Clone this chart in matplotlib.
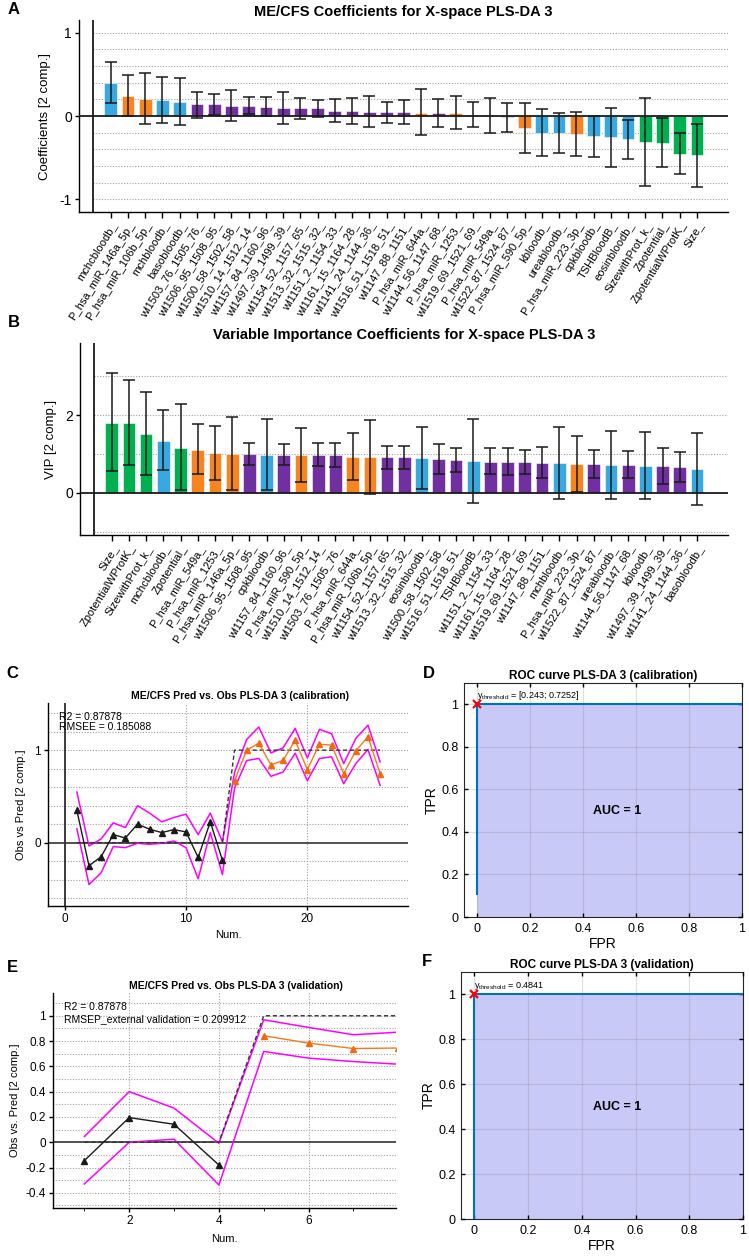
import numpy as np
import matplotlib
matplotlib.use("Agg")
import matplotlib.pyplot as plt

plt.rcParams.update({
    "font.family": ["Liberation Sans", "DejaVu Sans"],
    "mathtext.default": "regular",
    "axes.linewidth": 1.0,
    "xtick.major.width": 1.0, "ytick.major.width": 1.0,
})

BLUE = "#38a9e0"
ORANGE = "#f7841f"
PURPLE = "#7030a0"
GREEN = "#00b050"
MAGENTA = "#ff00ff"
LINE_OR = "#f47a20"
ROC_BLUE = "#0072bd"
ROC_FILL = "#c9c9f8"
DARK = "#1a1a1a"
GRID = "#a0a0a0"

# ---- panel A: coefficients ----
a_labels = ["mchcbloodb_", "P_hsa_miR_146a_5p_", "P_hsa_miR_106b_5p_", "mchbloodb_",
            "basobloodb_", "wl1503_76_1505_76_", "wl1506_95_1508_95_", "wl1500_58_1502_58_",
            "wl1510_14_1512_14_", "wl1157_84_1160_96_", "wl1497_39_1499_39_",
            "wl1154_52_1157_65_", "wl1513_32_1515_32_", "wl1151_2_1154_33_",
            "wl1161_15_1164_28_", "wl1141_24_1144_36_", "wl1516_51_1518_51_",
            "wl1147_88_1151_", "P_hsa_miR_644a_", "wl1144_56_1147_68_", "P_hsa_miR_1253_",
            "wl1519_69_1521_69_", "P_hsa_miR_549a_", "wl1522_87_1524_87_",
            "P_hsa_miR_590_5p_", "kbloodb_", "ureabloodb_", "P_hsa_miR_223_3p_",
            "cpkbloodb_", "TSHBloodB_", "eosinbloodb_", "SizewithProt_k_", "Zpotential_",
            "ZpotentialWProtK_", "Size_"]
a_vals = [0.39, 0.24, 0.20, 0.19, 0.17, 0.14, 0.14, 0.12, 0.12, 0.11, 0.09, 0.09, 0.09,
          0.06, 0.06, 0.045, 0.045, 0.045, 0.035, 0.03, 0.03, 0.01, 0.01, -0.01, -0.14,
          -0.20, -0.20, -0.21, -0.245, -0.25, -0.28, -0.31, -0.32, -0.45, -0.47]
a_hi = [0.65, 0.49, 0.51, 0.47, 0.46, 0.29, 0.26, 0.31, 0.23, 0.23, 0.29, 0.21, 0.19,
        0.20, 0.22, 0.24, 0.17, 0.19, 0.32, 0.20, 0.24, 0.17, 0.22, 0.16, 0.15, 0.08,
        0.03, 0.05, 0.0, 0.10, -0.05, 0.22, -0.02, -0.20, -0.09]
a_lo = [0.15, 0.0, -0.10, -0.08, -0.11, -0.02, 0.01, -0.06, 0.02, 0.0, -0.10, -0.03,
        -0.01, -0.07, -0.10, -0.13, -0.08, -0.10, -0.23, -0.13, -0.16, -0.13, -0.20,
        -0.19, -0.44, -0.48, -0.44, -0.48, -0.49, -0.61, -0.51, -0.84, -0.61, -0.69, -0.85]

# ---- panel B: VIP ----
b_labels = ["Size_", "ZpotentialWProtK_", "SizewithProt_k_", "mchcbloodb_", "Zpotential_",
            "P_hsa_miR_549a_", "P_hsa_miR_1253_", "P_hsa_miR_146a_5p_", "wl1506_95_1508_95_",
            "cpkbloodb_", "wl1157_84_1160_96_", "P_hsa_miR_590_5p_", "wl1510_14_1512_14_",
            "wl1503_76_1505_76_", "P_hsa_miR_644a_", "P_hsa_miR_106b_5p_",
            "wl1154_52_1157_65_", "wl1513_32_1515_32_", "eosinbloodb_", "wl1500_58_1502_58_",
            "wl1516_51_1518_51_", "TSHBloodB_", "wl1151_2_1154_33_", "wl1161_15_1164_28_",
            "wl1519_69_1521_69_", "wl1147_88_1151_", "mchbloodb_", "P_hsa_miR_223_3p_",
            "wl1522_87_1524_87_", "ureabloodb_", "wl1144_56_1147_68_", "kbloodb_",
            "wl1497_39_1499_39_", "wl1141_24_1144_36_", "basobloodb_"]
b_vals = [1.81, 1.79, 1.52, 1.34, 1.16, 1.10, 1.02, 1.0, 1.0, 0.98, 0.98, 0.97, 0.97,
          0.97, 0.93, 0.91, 0.91, 0.91, 0.89, 0.86, 0.84, 0.81, 0.80, 0.79, 0.78, 0.77,
          0.76, 0.74, 0.74, 0.72, 0.72, 0.70, 0.70, 0.66, 0.60]
b_hi = [3.08, 2.90, 2.60, 2.13, 2.28, 1.76, 1.72, 1.95, 1.29, 1.90, 1.25, 1.68, 1.27,
        1.28, 1.55, 1.87, 1.21, 1.21, 1.69, 1.25, 1.16, 1.91, 1.15, 1.16, 1.10, 1.19,
        1.70, 1.47, 1.10, 1.60, 1.08, 1.56, 1.16, 1.05, 1.54]
b_lo = [0.56, 0.72, 0.45, 0.59, 0.06, 0.47, 0.34, 0.07, 0.72, 0.08, 0.72, 0.28, 0.68,
        0.67, 0.32, -0.03, 0.62, 0.62, 0.10, 0.48, 0.54, -0.26, 0.47, 0.45, 0.49, 0.38,
        -0.17, 0.03, 0.39, -0.15, 0.37, -0.17, 0.23, 0.28, -0.32]

GREEN_VARS = ["Size_", "SizewithProt_k_", "Zpotential_", "ZpotentialWProtK_"]

# ---- panel C: calibration ----
c_num = list(range(1, 27))
c_obs = [0, 0, 0, 0, 0, 0, 0, 0, 0, 0, 0, 0, 0, 1, 1, 1, 1, 1, 1, 1, 1, 1, 1, 1, 1, 1]
c_pred = [0.348, -0.25, -0.152, 0.087, 0.05, 0.20, 0.145, 0.109, 0.141, 0.116, -0.16,
          0.225, -0.19, 0.67, 1.0, 1.076, 0.84, 0.89, 1.105, 0.79, 1.065, 1.054, 0.746,
          0.993, 1.145, 0.746]
c_upper = [0.547, -0.036, 0.04, 0.214, 0.163, 0.40, 0.319, 0.225, 0.272, 0.308, 0.087,
           0.319, 0.01, 0.76, 1.116, 1.25, 0.97, 1.025, 1.235, 0.917, 1.225, 1.178, 0.855,
           1.127, 1.27, 0.873]
c_lower = [0.149, -0.453, -0.326, -0.043, -0.054, -0.007, -0.018, -0.007, 0.018, -0.054,
           -0.39, 0.109, -0.344, 0.59, 0.888, 0.91, 0.717, 0.764, 0.967, 0.67, 0.91, 0.928,
           0.638, 0.855, 1.007, 0.62]

# ---- panel E: validation ----
e_num = [1, 2, 3, 4, 5, 6, 7, 8]
e_obs = [0, 0, 0, 0, 1, 1, 1, 1]
e_pred = [-0.145, 0.195, 0.142, -0.18, 0.842, 0.784, 0.741, 0.745]
e_upper = [0.045, 0.40, 0.27, -0.008, 0.968, 0.908, 0.85, 0.87]
e_lower = [-0.33, 0.0, 0.024, -0.338, 0.718, 0.665, 0.638, 0.617]

# ---- ROC curves ----
d_fpr = [0, 0, 1]
d_tpr = [0.11, 1, 1]
f_fpr = [0, 0, 1]
f_tpr = [0, 1, 1]


def bar_color(name):
    if name.startswith("wl"):
        return PURPLE
    if name.startswith("P_hsa"):
        return ORANGE
    if name in GREEN_VARS:
        return GREEN
    return BLUE


def coef_panel(ax, labels, vals, lo, hi, ylim, yticks, grid_y, ylabel, title):
    x = np.arange(1, len(labels) + 1)
    v = np.array(vals)
    ax.bar(x, v, 0.74, color=[bar_color(n) for n in labels], edgecolor="white",
           linewidth=0.4, zorder=2)
    ax.errorbar(x, v, yerr=[v - np.array(lo), np.array(hi) - v], fmt="none",
                ecolor=DARK, elinewidth=1.1, capsize=4, capthick=1.1, zorder=3)
    ax.hlines(grid_y, 0, 37, colors=GRID, linestyles=(0, (1, 1.5)), lw=0.8, zorder=1)
    ax.axhline(0, color=DARK, lw=1.3, zorder=4)
    ax.axvline(0, color=DARK, lw=1.3, zorder=4)
    ax.set_xlim(-0.84, 36.8)
    ax.set_ylim(*ylim)
    ax.set_xticks(x)
    ax.set_xticklabels(labels, rotation=58, ha="right", rotation_mode="anchor", fontsize=8)
    ax.set_yticks(yticks)
    ax.set_yticklabels([str(t) for t in yticks], fontsize=10)
    ax.tick_params(axis="x", length=4, pad=2)
    ax.tick_params(axis="y", length=3, pad=2)
    ax.set_ylabel(ylabel, fontsize=9.5, labelpad=6)
    ax.set_title(title, fontsize=10.5, fontweight="bold", pad=3)
    ax.spines["top"].set_visible(False)
    ax.spines["right"].set_visible(False)


def pred_panel(ax, num, obs, pred, upper, lower, n0):
    ax.plot(num, upper, color=MAGENTA, lw=1.1, zorder=3)
    ax.plot(num, lower, color=MAGENTA, lw=1.1, zorder=3)
    ax.plot(num, obs, color="#333333", lw=1.0, ls=(0, (3, 2)), zorder=4)
    ax.plot(num[:n0], pred[:n0], "^-", color=DARK, lw=1.0, ms=5, zorder=5)
    ax.plot(num[n0:], pred[n0:], "^-", color=LINE_OR, mfc="#f26a10", mec="#f26a10",
            lw=1.0, ms=5, zorder=5)
    ax.axhline(0, color="#333333", lw=1.2, zorder=2)
    ax.spines["top"].set_visible(False)
    ax.spines["right"].set_visible(False)
    ax.tick_params(labelsize=8.5, length=3, pad=2)


def roc_panel(ax, fpr, tpr, thr_text, title):
    ax.fill_between([0, 1], [1, 1], 0, color=ROC_FILL, lw=0, zorder=1)
    ax.grid(True, color="#808080", alpha=0.25, lw=0.8, zorder=2)
    ax.set_axisbelow(False)
    ax.plot(fpr, tpr, color=ROC_BLUE, lw=1.5, zorder=3)
    ax.plot([0], [1], "x", color="red", ms=6, mew=1.6, zorder=4, clip_on=False)
    ax.text(0.0, 1.012, thr_text, fontsize=6.5, ha="left", va="bottom", zorder=5)
    ax.text(0.53, 0.5, "AUC = 1", fontsize=9, fontweight="bold", ha="center", va="center",
            zorder=5)
    ax.set_xlim(-0.05, 1.0)
    ax.set_ylim(0, 1.1)
    ticks = [0, 0.2, 0.4, 0.6, 0.8, 1]
    tlabels = ["0", "0.2", "0.4", "0.6", "0.8", "1"]
    ax.set_xticks(ticks)
    ax.set_xticklabels(tlabels)
    ax.set_yticks(ticks)
    ax.set_yticklabels(tlabels)
    ax.tick_params(direction="in", top=True, right=True, labelsize=9, length=3, pad=4)
    for s in ax.spines.values():
        s.set_color("#262626")
        s.set_linewidth(0.8)
    ax.set_xlabel("FPR", fontsize=10, labelpad=2)
    ax.set_ylabel("TPR", fontsize=10, labelpad=2)
    ax.set_title(title, fontsize=8.5, fontweight="bold", pad=3)


W, H = 749, 1259
fig = plt.figure(figsize=(W / 100, H / 100), dpi=100)


def box(l, t, r, b):
    return [l / W, 1 - b / H, (r - l) / W, (b - t) / H]


axA = fig.add_axes(box(79, 20, 728, 212))
coef_panel(axA, a_labels, a_vals, a_lo, a_hi, (-1.15, 1.15), [-1, 0, 1],
           [-1, -0.8, -0.6, -0.4, -0.2, 0.2, 0.4, 0.6, 0.8, 1.0],
           "Coefficients [2 comp.]", "ME/CFS Coefficients for X-space PLS-DA 3")

axB = fig.add_axes(box(80, 343, 728, 535))
coef_panel(axB, b_labels, b_vals, b_lo, b_hi, (-1.09, 3.86), [0, 2],
           [-1, 1, 2, 3], "VIP [2 comp.]",
           "Variable Importance Coefficients for X-space PLS-DA 3")

# C
axC = fig.add_axes(box(48, 703, 408, 906))
axC.hlines([-0.6, -0.4, -0.2, 0.2, 0.4, 0.6, 0.8, 1.0, 1.2, 1.4], -1.38, 28.3,
           colors=GRID, linestyles=(0, (1, 1.5)), lw=0.8, zorder=1)
axC.vlines([10, 20], -0.685, 1.51, colors=GRID, linestyles=(0, (1, 1.5)), lw=0.8, zorder=1)
axC.axvline(0, color=DARK, lw=1.2, zorder=2)
pred_panel(axC, c_num, c_obs, c_pred, c_upper, c_lower, 13)
axC.set_xlim(-1.38, 28.3)
axC.set_ylim(-0.685, 1.51)
axC.set_xticks([0, 10, 20])
axC.set_yticks([0, 1])
axC.set_xlabel("Num.", fontsize=8, labelpad=4)
axC.set_ylabel("Obs vs Pred [2 comp.]", fontsize=8, labelpad=6)
axC.text(-0.5, 1.36, "R2 = 0.87878", fontsize=7.5, va="center")
axC.text(-0.5, 1.25, "RMSEE = 0.185088", fontsize=7.5, va="center")
fig.text(240 / W, 1 - 696 / H, "ME/CFS Pred vs. Obs PLS-DA 3 (calibration)",
         fontsize=7.5, fontweight="bold", ha="center", va="center")

# D
axD = fig.add_axes(box(464, 683, 742, 917))
roc_panel(axD, d_fpr, d_tpr, "y$_{threshold}$ = [0.243; 0.7252]",
          "ROC curve PLS-DA 3 (calibration)")

# E
axE = fig.add_axes(box(53, 993, 396, 1208))
axE.hlines([-0.5, -0.4, -0.3, -0.2, -0.1, 0.1, 0.2, 0.3, 0.4, 0.5, 0.6, 0.7, 0.8, 0.9,
            1.0, 1.1], 0.3, 7.95, colors=GRID, linestyles=(0, (1, 1.5)), lw=0.8, zorder=1)
axE.vlines([2, 4, 6], -0.52, 1.18, colors=GRID, linestyles=(0, (1, 1.5)), lw=0.8, zorder=1)
pred_panel(axE, e_num, e_obs, e_pred, e_upper, e_lower, 4)
axE.set_xlim(0.3, 7.95)
axE.set_ylim(-0.52, 1.18)
axE.set_xticks([2, 4, 6])
axE.set_xticks([1, 3, 5, 7], minor=True)
axE.tick_params(which="minor", length=2)
axE.set_yticks([-0.4, -0.2, 0, 0.2, 0.4, 0.6, 0.8, 1])
axE.set_yticklabels(["-0.4", "-0.2", "0", "0.2", "0.4", "0.6", "0.8", "1"])
axE.set_xlabel("Num.", fontsize=8, labelpad=5)
axE.set_ylabel("Obs vs. Pred [2 comp.]", fontsize=8, labelpad=4)
axE.text(0.55, 1.07, "R2 = 0.87878", fontsize=7.5, va="center")
axE.text(0.55, 0.975, "RMSEP_external validation = 0.209912", fontsize=7.5, va="center")
fig.text(236 / W, 1 - 986 / H, "ME/CFS Pred vs. Obs PLS-DA 3 (validation)",
         fontsize=7.5, fontweight="bold", ha="center", va="center")

# F
axF = fig.add_axes(box(461, 972, 743, 1219))
roc_panel(axF, f_fpr, f_tpr, "y$_{threshold}$ = 0.4841", "ROC curve PLS-DA 3 (validation)")

for letter, px, py in [("A", 14, 10), ("B", 14, 322), ("C", 12, 673),
                       ("D", 429, 673), ("E", 12, 967), ("F", 427, 962)]:
    fig.text(px / W, 1 - py / H, letter, fontsize=12, fontweight="bold",
             ha="center", va="center")

fig.savefig("out.png", dpi=100)
